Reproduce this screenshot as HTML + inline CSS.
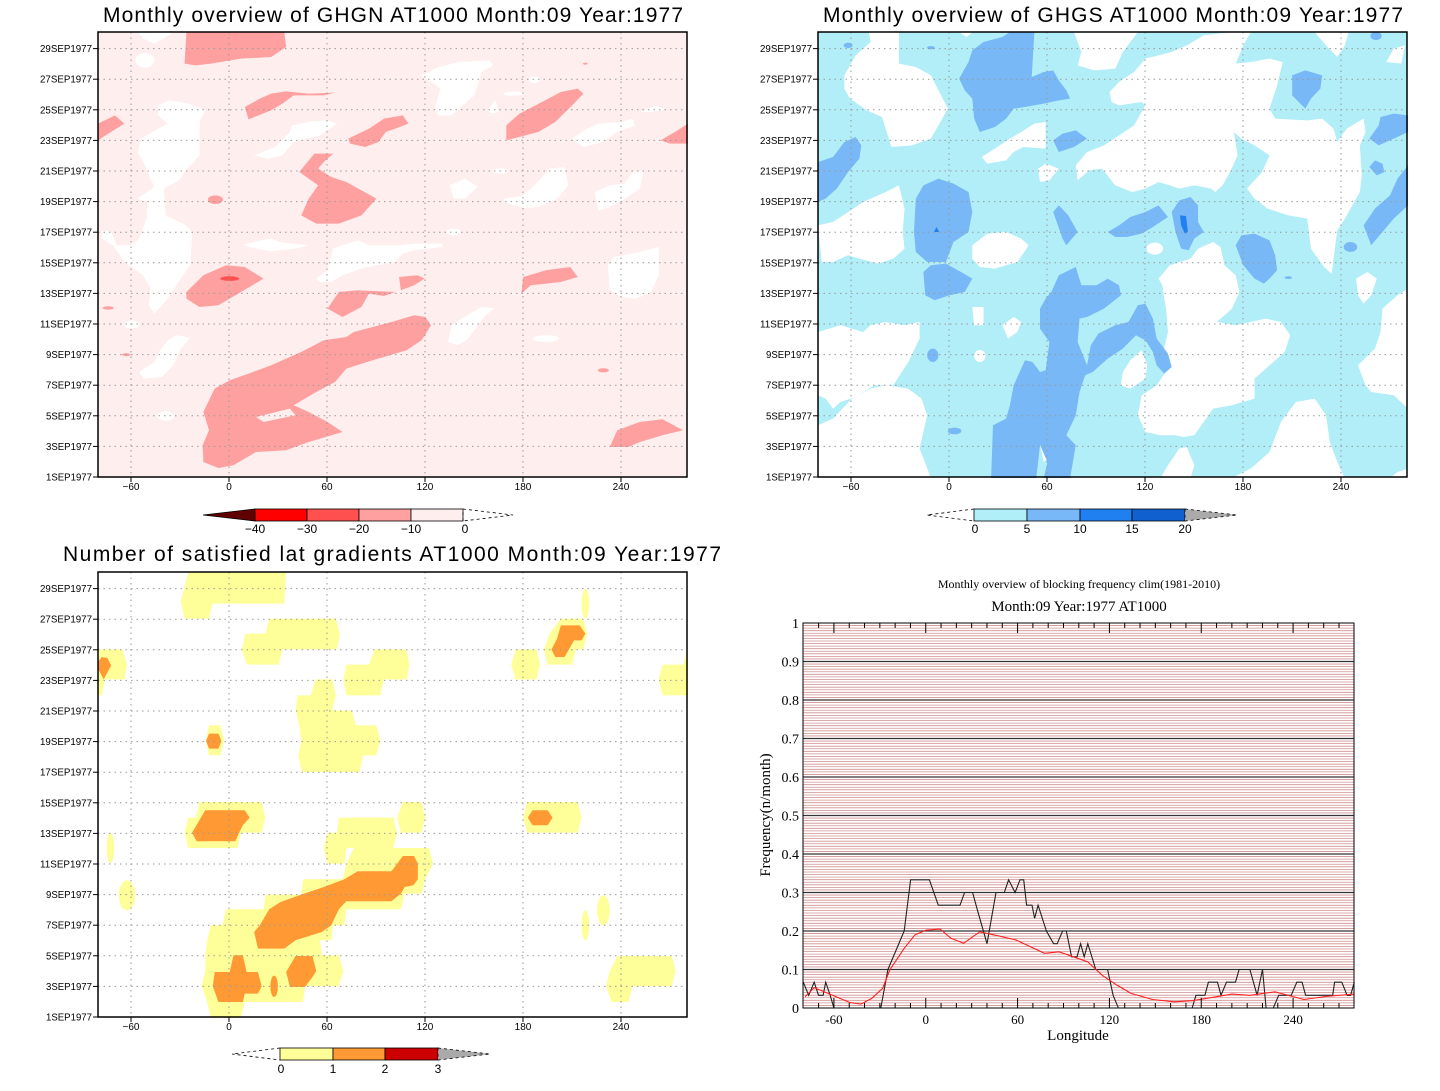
<!DOCTYPE html>
<html><head><meta charset="utf-8">
<style>
html,body{margin:0;padding:0;background:#fff;}
svg{display:block;}
.t{font-family:"Liberation Sans",sans-serif;}
.s{font-family:"Liberation Serif",serif;}
</style></head>
<body>
<svg id="fig" width="1440" height="1091" viewBox="0 0 1440 1091" xmlns="http://www.w3.org/2000/svg">
<!-- Panel 1 -->
<g>
<text class="t" x="103" y="22" font-size="21" textLength="580">Monthly overview of GHGN AT1000 Month:09 Year:1977</text>
<rect x="98" y="32" width="589" height="445" fill="#ffeeee"/>
<g transform="translate(98,32) scale(0.3763,0.3333)">
<g fill="#ffffff">
<path d="M105,0 L200,0 L175,20 L150,35 L120,20 Z"/>
<ellipse cx="125" cy="85" rx="25" ry="22"/>
<path d="M160,220 L190,205 L240,215 L285,235 L270,270 L270,370 L230,420 L215,445 L175,470 L180,550 L235,580 L250,600 L245,700 L220,740 L185,800 L150,845 L135,820 L140,770 L120,730 L70,690 L40,640 L10,620 L10,595 L35,600 L50,640 L90,640 L110,620 L130,555 L130,510 L105,500 L150,465 L135,430 L125,400 L105,360 L115,320 L160,290 L185,275 L160,250 Z"/>
<path d="M860,130 L905,105 L960,90 L1040,85 L1050,100 L1020,120 L1000,190 L960,230 L940,250 L905,250 L895,230 L910,170 Z"/>
<ellipse cx="1160" cy="143" rx="15" ry="10"/>
<ellipse cx="1105" cy="185" rx="28" ry="6"/>
<path d="M1035,235 L1055,205 L1065,240 L1045,245 Z"/>
<path d="M1440,240 L1480,222 L1510,232 L1470,240 Z"/>
<path d="M415,370 L470,345 L510,300 L515,280 L570,268 L610,265 L635,275 L590,310 L520,330 L490,370 L450,380 Z"/>
<path d="M1260,320 L1300,290 L1330,275 L1390,270 L1420,260 L1428,280 L1380,300 L1340,330 L1290,345 Z"/>
<path d="M935,460 L975,440 L1010,465 L975,500 L945,500 Z"/>
<ellipse cx="1070" cy="417" rx="20" ry="8"/>
<path d="M1080,500 L1130,490 L1160,460 L1200,410 L1240,405 L1250,460 L1220,500 L1170,525 L1130,528 L1080,510 Z"/>
<path d="M1320,480 L1360,460 L1400,455 L1420,420 L1450,415 L1440,470 L1400,500 L1350,530 L1330,535 Z"/>
<path d="M385,640 L430,625 L460,620 L490,632 L560,640 L525,650 L460,658 L420,650 Z"/>
<ellipse cx="945" cy="600" rx="20" ry="10"/>
<path d="M580,740 L610,715 L625,650 L650,640 L690,625 L720,640 L800,640 L840,635 L915,635 L915,645 L840,655 L810,665 L790,690 L740,700 L700,710 L650,730 L620,750 L590,750 Z"/>
<path d="M1355,700 L1370,675 L1420,665 L1490,645 L1490,730 L1470,780 L1430,800 L1390,795 L1360,775 Z"/>
<ellipse cx="90" cy="878" rx="20" ry="12"/>
<path d="M930,930 L940,880 L980,850 L1020,825 L1055,828 L1030,850 L1000,895 L980,925 L955,940 Z"/>
<ellipse cx="1190" cy="920" rx="35" ry="10"/>
<path d="M110,1020 L150,990 L165,955 L190,920 L210,910 L245,918 L220,950 L200,1000 L170,1035 L120,1040 Z"/>
<ellipse cx="180" cy="1152" rx="22" ry="14"/>
</g>
<g fill="#ffa0a0">
<path d="M235,0 L495,0 L500,45 L460,75 L380,80 L300,95 L260,100 L230,95 Z"/>
<path d="M390,225 L430,200 L460,185 L500,178 L560,185 L630,182 L600,190 L520,190 L490,215 L460,235 L400,262 Z"/>
<path d="M0,275 L45,250 L70,275 L20,310 L0,325 Z"/>
<path d="M665,320 L720,290 L760,260 L810,250 L825,275 L790,290 L765,300 L745,330 L710,345 L670,335 Z"/>
<path d="M1085,280 L1120,245 L1180,210 L1230,180 L1275,170 L1290,185 L1260,220 L1215,270 L1170,300 L1085,325 Z"/>
<path d="M1495,325 L1540,295 L1568,275 L1568,335 L1520,335 Z"/>
<path d="M535,420 L575,365 L625,365 L600,390 L585,410 L620,435 L660,450 L740,500 L700,550 L640,575 L580,575 L540,550 L560,500 L585,460 Z"/>
<ellipse cx="312" cy="503" rx="20" ry="13"/>
<path d="M235,780 L280,730 L340,700 L390,705 L440,740 L380,780 L320,820 L270,825 L235,800 Z"/>
<path d="M800,735 L850,730 L868,740 L840,760 L805,775 Z"/>
<path d="M1130,735 L1190,715 L1255,705 L1275,735 L1230,750 L1150,760 L1125,785 Z"/>
<path d="M610,830 L640,780 L690,775 L790,780 L760,792 L720,785 L700,825 L650,855 Z"/>
<path d="M280,1140 L310,1070 L350,1045 L400,1025 L460,1000 L540,960 L600,925 L660,915 L680,900 L780,870 L840,850 L870,855 L885,880 L860,925 L820,955 L730,985 L660,1010 L630,1050 L580,1080 L550,1100 L520,1120 L560,1140 L610,1170 L650,1200 L560,1230 L500,1255 L420,1260 L360,1300 L320,1308 L280,1290 L278,1240 L295,1195 Z"/>
<path d="M1360,1245 L1380,1195 L1440,1170 L1500,1162 L1555,1195 L1500,1210 L1440,1230 L1410,1245 Z"/>
<ellipse cx="27" cy="828" rx="15" ry="5"/>
<ellipse cx="75" cy="968" rx="12" ry="4"/>
<ellipse cx="1343" cy="1015" rx="15" ry="6"/>
<ellipse cx="1295" cy="95" rx="6" ry="3"/>
</g>
<path d="M420,1155 L510,1130 L525,1150 L440,1170 Z" fill="#ffeeee"/>
<ellipse cx="350" cy="740" rx="25" ry="7" fill="#ff5050"/>
</g>
<g id="grid1"></g>
<rect x="98" y="32" width="589" height="445" fill="none" stroke="#000" stroke-width="1.5"/>
<g id="axes1"></g>
<g>
<polygon points="203,515 255,509 255,521" fill="#600000" stroke="#000" stroke-width="0.8"/>
<rect x="255" y="509" width="52" height="12" fill="#ff0000" stroke="#000" stroke-width="0.8"/>
<rect x="307" y="509" width="52" height="12" fill="#ff5050" stroke="#000" stroke-width="0.8"/>
<rect x="359" y="509" width="52" height="12" fill="#ffa0a0" stroke="#000" stroke-width="0.8"/>
<rect x="411" y="509" width="52" height="12" fill="#ffeeee" stroke="#000" stroke-width="0.8"/>
<polyline points="463,521 463,509 513,515 463,521" fill="none" stroke="#000" stroke-width="0.8" stroke-dasharray="3,3"/>
<g class="t" font-size="12" text-anchor="middle">
<text x="255" y="533">−40</text><text x="307" y="533">−30</text><text x="359" y="533">−20</text><text x="411" y="533">−10</text><text x="465" y="533">0</text>
</g></g>
</g>

<!-- Panel 2 -->
<g>
<text class="t" x="823" y="22" font-size="21" textLength="580">Monthly overview of GHGS AT1000 Month:09 Year:1977</text>
<rect x="818" y="32" width="589" height="445" fill="#b2eef7"/>
<g transform="translate(818,32) scale(0.3763,0.3333)">
<g fill="#ffffff">
<path d="M70,130 L100,70 L140,30 L135,0 L215,0 L215,95 L260,105 L300,130 L345,230 L320,280 L300,320 L250,340 L195,345 L180,290 L170,255 L130,235 L85,200 L70,170 Z"/>
<path d="M375,0 L410,0 L395,15 Z"/>
<path d="M680,0 L850,0 L810,60 L790,110 L735,115 L690,100 L700,60 Z"/>
<path d="M775,180 L800,150 L840,120 L870,80 L940,60 L980,40 L1025,10 L1100,0 L1150,0 L1130,40 L1110,95 L1150,90 L1200,80 L1235,90 L1220,160 L1200,230 L1215,260 L1250,262 L1300,265 L1340,260 L1370,290 L1380,330 L1405,290 L1450,260 L1455,300 L1440,340 L1445,430 L1440,480 L1400,560 L1380,595 L1370,680 L1365,725 L1345,705 L1310,650 L1300,560 L1250,550 L1195,530 L1160,500 L1140,470 L1180,420 L1200,370 L1160,340 L1125,320 L1105,300 L1115,370 L1095,420 L1075,460 L1055,480 L1045,470 L1000,460 L960,470 L935,460 L905,450 L870,470 L835,480 L790,460 L755,410 L720,415 L690,445 L685,400 L715,360 L760,340 L800,310 L840,280 L870,220 L860,210 L800,220 L780,210 Z"/>
<path d="M1320,0 L1410,0 L1400,40 L1380,75 L1350,40 Z"/>
<path d="M1510,90 L1530,50 L1560,40 L1550,95 Z"/>
<path d="M435,375 L470,350 L510,320 L540,300 L575,275 L605,270 L605,350 L545,345 L520,360 L500,385 L450,395 Z"/>
<path d="M585,410 L605,395 L640,410 L615,445 L590,450 Z"/>
<path d="M0,580 L40,570 L80,540 L120,510 L180,480 L215,460 L230,530 L225,600 L230,650 L200,680 L160,695 L110,680 L80,670 L40,690 L10,690 Z"/>
<path d="M410,640 L450,605 L500,600 L540,620 L560,640 L530,690 L470,710 L430,705 L410,680 Z"/>
<ellipse cx="895" cy="650" rx="22" ry="18"/>
<path d="M905,740 L935,700 L990,680 L1010,650 L1050,630 L1070,645 L1080,700 L1110,730 L1120,780 L1100,830 L1060,870 L1110,880 L1190,860 L1230,870 L1255,910 L1240,960 L1200,1000 L1160,1040 L1160,1100 L1100,1120 L1050,1130 L1000,1210 L970,1215 L950,1210 L910,1210 L870,1200 L850,1150 L860,1090 L900,1060 L930,1010 L920,950 L930,900 L925,830 L920,800 L915,760 Z"/>
<path d="M1430,740 L1460,720 L1485,740 L1470,790 L1450,815 L1435,790 Z"/>
<path d="M1435,1000 L1480,950 L1495,900 L1500,830 L1540,790 L1568,770 L1568,1130 L1530,1090 L1470,1080 L1455,1060 Z"/>
<path d="M410,825 L440,825 L440,880 L415,880 Z"/>
<path d="M490,880 L520,855 L540,870 L530,900 L505,920 Z"/>
<ellipse cx="430" cy="972" rx="15" ry="18"/>
<path d="M805,1060 L810,1020 L830,985 L860,955 L875,1000 L870,1040 L830,1070 Z"/>
<path d="M0,900 L60,880 L120,900 L140,880 L180,870 L230,880 L270,870 L270,920 L240,990 L200,1060 L150,1060 L100,1095 L60,1110 L40,1130 L20,1100 L0,1090 Z"/>
<path d="M0,1180 L40,1160 L90,1100 L140,1070 L180,1060 L240,1070 L275,1100 L290,1150 L270,1250 L300,1338 L0,1338 Z"/>
<path d="M910,1338 L930,1300 L960,1250 L980,1245 L1000,1300 L990,1338 Z"/>
<path d="M1100,1338 L1150,1310 L1200,1260 L1230,1170 L1270,1110 L1320,1100 L1350,1150 L1360,1230 L1380,1290 L1400,1338 Z"/>
<path d="M1520,1338 L1540,1320 L1568,1310 L1568,1338 Z"/>
<path d="M590,1240 L640,1245 L600,1290 Z"/>
</g>
<g fill="#78b8f6">
<path d="M375,140 L400,90 L410,55 L440,30 L490,15 L510,0 L575,0 L568,135 L600,120 L625,115 L640,145 L660,175 L670,200 L640,205 L600,215 L550,225 L520,230 L500,260 L470,285 L430,300 L415,260 L410,200 L390,175 Z"/>
<path d="M625,325 L650,305 L685,295 L715,320 L680,345 L640,360 Z"/>
<path d="M1260,130 L1295,115 L1340,130 L1335,170 L1310,200 L1295,230 L1260,190 Z"/>
<path d="M1465,320 L1490,280 L1495,255 L1530,245 L1568,250 L1568,300 L1530,320 L1490,340 Z"/>
<path d="M0,390 L40,375 L70,330 L100,315 L115,340 L110,380 L80,420 L50,470 L20,500 L0,510 Z"/>
<path d="M260,500 L280,460 L320,440 L360,455 L400,480 L410,540 L400,600 L360,630 L340,690 L290,690 L260,660 L255,600 Z"/>
<path d="M280,720 L300,700 L340,695 L380,720 L410,740 L390,780 L350,790 L310,805 L285,790 Z"/>
<path d="M625,540 L640,520 L665,550 L690,600 L660,640 L650,620 Z"/>
<path d="M770,600 L800,580 L830,555 L870,540 L905,520 L930,555 L890,585 L860,605 L820,615 L790,615 Z"/>
<path d="M940,540 L960,505 L990,495 L1010,520 L1010,570 L1025,600 L1000,620 L985,655 L965,650 L950,600 Z"/>
<path d="M1110,640 L1125,610 L1160,605 L1200,625 L1215,670 L1220,715 L1200,740 L1185,755 L1160,740 L1130,700 Z"/>
<path d="M1465,405 L1480,385 L1500,395 L1505,420 L1485,430 Z"/>
<path d="M1450,580 L1480,530 L1520,490 L1540,440 L1568,400 L1568,520 L1530,560 L1500,600 L1470,640 Z"/>
<ellipse cx="1415" cy="645" rx="18" ry="15"/>
<path d="M460,1338 L465,1180 L500,1160 L510,1120 L520,1060 L550,985 L570,990 L590,1020 L605,1015 L615,930 L590,890 L590,830 L605,800 L620,780 L640,730 L685,705 L700,760 L740,760 L770,740 L800,760 L805,790 L760,830 L715,855 L695,860 L690,930 L715,1000 L725,940 L745,905 L790,880 L825,870 L850,820 L870,815 L890,860 L900,920 L930,965 L940,1005 L920,1025 L900,1000 L890,960 L870,925 L845,910 L810,950 L770,980 L730,1020 L710,1030 L695,1080 L685,1150 L660,1210 L685,1240 L670,1338 L600,1338 L610,1290 L590,1240 L580,1338 Z"/>
<ellipse cx="305" cy="970" rx="15" ry="20"/>
<ellipse cx="363" cy="1197" rx="18" ry="10"/>
<ellipse cx="80" cy="40" rx="12" ry="8"/>
<ellipse cx="300" cy="47" rx="10" ry="5"/>
<ellipse cx="1483" cy="12" rx="15" ry="12"/>
<ellipse cx="1250" cy="737" rx="10" ry="4"/>
</g>
<path d="M962,550 L978,552 L983,600 L975,605 L965,580 Z" fill="#2080f0"/>
<path d="M308,600 L315,585 L322,600 Z" fill="#2080f0"/>
</g>
<g id="grid2"></g>
<rect x="818" y="32" width="589" height="445" fill="none" stroke="#000" stroke-width="1.5"/>
<g id="axes2"></g>
<g>
<polyline points="974,509 927,515 974,521" fill="none" stroke="#000" stroke-width="0.8" stroke-dasharray="3,3"/>
<rect x="974" y="509" width="53" height="12" fill="#b0eef8" stroke="#000" stroke-width="0.8"/>
<rect x="1027" y="509" width="53" height="12" fill="#78b8f8" stroke="#000" stroke-width="0.8"/>
<rect x="1080" y="509" width="52" height="12" fill="#2080f0" stroke="#000" stroke-width="0.8"/>
<rect x="1132" y="509" width="53" height="12" fill="#1060d0" stroke="#000" stroke-width="0.8"/>
<polygon points="1185,509 1237,515 1185,521" fill="#aaaaaa" stroke="#000" stroke-width="0.8" stroke-dasharray="3,3"/>
<g class="t" font-size="12" text-anchor="middle">
<text x="975" y="533">0</text><text x="1027" y="533">5</text><text x="1080" y="533">10</text><text x="1132" y="533">15</text><text x="1185" y="533">20</text>
</g></g>
</g>

<!-- Panel 3 -->
<g>
<text class="t" x="63" y="561" font-size="21" textLength="658">Number of satisfied lat gradients AT1000 Month:09 Year:1977</text>
<rect x="98" y="572" width="589" height="445" fill="#ffffff"/>
<g transform="translate(98,572) scale(0.3763,0.3333)">
<g fill="#ffff99">
<path d="M240,0 L500,0 L495,95 L305,95 L295,140 L230,140 L220,90 Z"/>
<path d="M455,140 L632,140 L643,185 L635,232 L490,232 L480,278 L395,278 L382,232 L392,185 L445,185 Z"/>
<path d="M0,232 L65,232 L77,278 L70,322 L18,322 L10,370 L0,370 Z"/>
<path d="M660,278 L720,278 L735,232 L820,232 L828,278 L820,322 L760,322 L750,370 L660,370 L652,322 Z"/>
<path d="M530,370 L565,370 L578,322 L622,322 L632,370 L622,415 L675,415 L685,460 L740,460 L750,505 L740,550 L705,550 L695,600 L542,600 L532,550 L540,505 L535,460 L525,415 Z"/>
<path d="M295,460 L325,460 L335,505 L325,550 L295,550 L287,505 Z"/>
<path d="M270,690 L435,690 L445,737 L435,782 L380,782 L370,828 L240,828 L230,782 L240,737 L260,737 Z"/>
<path d="M810,690 L860,690 L870,737 L860,782 L805,782 L795,737 Z"/>
<path d="M640,737 L785,737 L795,782 L785,828 L880,828 L890,875 L870,922 L860,965 L815,965 L805,1012 L660,1012 L655,1060 L625,1060 L620,1105 L590,1105 L595,1150 L640,1150 L652,1197 L640,1243 L550,1243 L545,1290 L390,1290 L380,1338 L300,1338 L290,1290 L275,1243 L285,1197 L285,1150 L290,1105 L300,1060 L330,1060 L340,1012 L440,1012 L445,968 L540,968 L545,922 L650,922 L660,875 L680,828 L660,828 L655,875 L610,875 L600,828 L610,782 L635,782 Z"/>
<path d="M1230,140 L1290,140 L1300,185 L1290,232 L1270,232 L1260,278 L1195,278 L1185,232 L1200,185 Z"/>
<path d="M1110,232 L1165,232 L1175,278 L1165,322 L1110,322 L1098,278 Z"/>
<path d="M1500,278 L1555,278 L1568,232 L1568,370 L1500,370 L1490,322 Z"/>
<path d="M1140,690 L1275,690 L1285,737 L1275,782 L1140,782 L1130,737 Z"/>
<path d="M1380,1152 L1525,1152 L1535,1197 L1525,1243 L1420,1243 L1410,1290 L1365,1290 L1350,1243 L1360,1197 Z"/>
<ellipse cx="1295" cy="95" rx="10" ry="45"/>
<ellipse cx="33" cy="828" rx="10" ry="45"/>
<ellipse cx="77" cy="970" rx="22" ry="45"/>
<ellipse cx="1343" cy="1015" rx="17" ry="45"/>
<ellipse cx="1295" cy="1060" rx="10" ry="45"/>
</g>
<g fill="#ff9933">
<path d="M0,270 L10,255 L25,258 L35,280 L15,322 L0,290 Z"/>
<path d="M295,485 L320,485 L328,507 L320,530 L295,530 L287,507 Z"/>
<path d="M285,715 L390,715 L403,737 L385,760 L375,782 L365,808 L262,808 L250,782 Z"/>
<path d="M415,1080 L430,1060 L455,1012 L485,990 L540,968 L600,945 L655,922 L690,898 L780,898 L810,852 L840,852 L850,875 L850,922 L838,940 L815,945 L805,965 L780,988 L660,988 L640,1012 L620,1060 L595,1080 L525,1105 L495,1130 L425,1130 Z"/>
<path d="M310,1200 L350,1200 L360,1150 L385,1150 L395,1200 L425,1200 L435,1243 L425,1265 L390,1265 L385,1290 L320,1290 L305,1243 Z"/>
<path d="M500,1200 L525,1152 L570,1152 L580,1197 L570,1215 L550,1245 L510,1245 Z"/>
<ellipse cx="468" cy="1243" rx="10" ry="32"/>
<path d="M1230,160 L1280,160 L1295,185 L1285,205 L1265,205 L1240,255 L1215,255 L1205,232 L1220,200 Z"/>
<path d="M1155,715 L1195,715 L1208,737 L1195,760 L1155,760 L1142,737 Z"/>
</g>
</g>
<g id="grid3"></g>
<rect x="98" y="572" width="589" height="445" fill="none" stroke="#000" stroke-width="1.5"/>
<g id="axes3"></g>
<g>
<polyline points="280,1048 232,1054 280,1060" fill="none" stroke="#000" stroke-width="0.8" stroke-dasharray="3,3"/>
<rect x="280" y="1048" width="53" height="12" fill="#ffff99" stroke="#000" stroke-width="0.8"/>
<rect x="333" y="1048" width="52" height="12" fill="#ff9933" stroke="#000" stroke-width="0.8"/>
<rect x="385" y="1048" width="53" height="12" fill="#cc0000" stroke="#000" stroke-width="0.8"/>
<polygon points="438,1048 490,1054 438,1060" fill="#aaaaaa" stroke="#000" stroke-width="0.8" stroke-dasharray="3,3"/>
<g class="t" font-size="12" text-anchor="middle">
<text x="281" y="1073">0</text><text x="333" y="1073">1</text><text x="385" y="1073">2</text><text x="438" y="1073">3</text>
</g></g>
</g>

<!-- Panel 4 -->
<g>
<text class="s" x="1079" y="588" font-size="12" text-anchor="middle">Monthly overview of blocking frequency clim(1981-2010)</text>
<text class="s" x="1079" y="611" font-size="15" text-anchor="middle">Month:09 Year:1977  AT1000</text>
<g id="p4grid"></g>
<g id="p4lines"></g>
<rect x="803" y="623" width="551" height="385" fill="none" stroke="#000" stroke-width="1"/>
<g id="p4axes"></g>
<text class="s" transform="translate(770,815) rotate(-90)" font-size="15" text-anchor="middle">Frequency(n/month)</text>
<text class="s" x="1078" y="1040" font-size="15" text-anchor="middle">Longitude</text>
</g>
</svg>
<script>
// Panel 4 data
const blackLon = [-80,-76.5,-72.9,-70.1,-67.1,-65.4,-62.4,-60,-29.4,-24.7,-14.1,-9.9,2.4,8.2,22.4,25.4,30.6,34.1,40,45.9,51.3,54.1,58.4,61.6,64,65.9,69.4,71.1,73.4,78.8,83.5,85.9,89.4,91.8,95.3,98.8,101.2,103.5,105.9,111.1,118.8,122.4,125.9,174.1,176.5,182.4,184.7,190.6,192.9,196.5,202.4,204.7,211.8,216.5,220,222.4,227.1,230.6,238.8,242.4,245.9,248.2,265.9,267.1,271.8,275.3,277.6,280];
const blackVal = [0.067,0.033,0.067,0.033,0.033,0.067,0.033,0,0,0.1,0.2,0.333,0.333,0.267,0.267,0.3,0.3,0.25,0.167,0.3,0.3,0.333,0.3,0.333,0.333,0.267,0.267,0.233,0.267,0.2,0.167,0.167,0.2,0.2,0.133,0.133,0.167,0.133,0.167,0.1,0.1,0.033,0,0,0.033,0.033,0.067,0.067,0.033,0.067,0.067,0.1,0.1,0.033,0.1,0,0,0.033,0.033,0.067,0.067,0.033,0.033,0.067,0.067,0.033,0.033,0.067];
const redLon = [-78.8,-72.9,-49.4,-42.4,-35.3,-28.2,-23.5,-14.1,-7.1,0,9.4,16.5,24.7,35.3,44.7,58.8,77.6,87.1,96.5,105.9,115.3,124.7,134.1,148.2,162.4,174.1,188.2,200,211.8,228.2,247.1,261.2,280];
const redVal = [0.029,0.053,0.014,0.010,0.025,0.051,0.099,0.155,0.190,0.202,0.205,0.181,0.168,0.198,0.19,0.177,0.142,0.146,0.133,0.12,0.085,0.06,0.038,0.022,0.016,0.019,0.028,0.036,0.033,0.042,0.022,0.03,0.036];
const p4XTicks = [-60,0,60,120,180,240];
const p4YTicks = [0,0.1,0.2,0.3,0.4,0.5,0.6,0.7,0.8,0.9,1];
// Panels 1-3 axis labels
const lonTicks = [-60,0,60,120,180,240];
const dayTicks = [1,3,5,7,9,11,13,15,17,19,21,23,25,27,29];

const NS = 'http://www.w3.org/2000/svg';
function mk(tag, attrs, parent){const e=document.createElementNS(NS,tag);for(const k in attrs)e.setAttribute(k,attrs[k]);parent.appendChild(e);return e;}

function buildMap(idx, x0, y0){
  const xs = lon => x0 + (lon + 80.2) * 1.6333;
  const ys = d => y0 + 445 - (d - 1) * 15.3;
  const grid = document.getElementById('grid'+idx);
  const axes = document.getElementById('axes'+idx);
  lonTicks.forEach(l=>{
    const gl = mk('line',{x1:xs(l),x2:xs(l),y1:y0,y2:y0+445,stroke:'#999','stroke-width':1,'stroke-dasharray':'1.5,4'},grid);
    
    
    mk('line',{x1:xs(l),x2:xs(l),y1:y0+445,y2:y0+450,stroke:'#000','stroke-width':1},axes);
    const t = mk('text',{x:xs(l),y:y0+458,'font-size':10,'text-anchor':'middle','class':'t'},axes);
    t.textContent = (l<0?'−':'')+Math.abs(l);
    
    
  });
  dayTicks.forEach(d=>{
    if(d>1){
      const gl = mk('line',{x1:x0,x2:x0+589,y1:ys(d),y2:ys(d),stroke:'#999','stroke-width':1,'stroke-dasharray':'1.5,4'},grid);
      
      
    }
    mk('line',{x1:x0-5,x2:x0,y1:ys(d),y2:ys(d),stroke:'#000','stroke-width':1},axes);
    const t = mk('text',{x:x0-6,y:ys(d)+3.5,'font-size':10,'text-anchor':'end','class':'t',textLength:d<10?46:52,lengthAdjust:'spacingAndGlyphs'},axes);
    t.textContent = d+'SEP1977';
    
    
  });
}
buildMap(1,98,32);
buildMap(2,818,32);
buildMap(3,98,572);

// Panel 4
const X0=803, Y0=623, W=551, H=385;
const px = lon => X0 + (lon + 80.2) * (W/360);
const py = v => Y0 + H - v * H;
const g4 = document.getElementById('p4grid');
for(let i=1;i<150;i++){
  if(i%15===0) continue;
  const l = mk('line',{x1:X0,x2:X0+W,y1:py(i/150),y2:py(i/150),stroke:'#d09090','stroke-width':0.8},g4);
  
  
}
const ax4 = document.getElementById('p4axes');
p4YTicks.forEach(v=>{
  if(v>0 && v<1){
    const l = mk('line',{x1:X0,x2:X0+W,y1:py(v),y2:py(v),stroke:'#333','stroke-width':1.2},g4);
    
    
  }
  const t = mk('text',{x:X0-4,y:py(v)+5,'font-size':14,'text-anchor':'end','class':'s'},ax4);
  t.textContent = String(v);
  
  
});
for(let lon=-70; lon<=270; lon+=10){
  mk('line',{x1:px(lon),x2:px(lon),y1:Y0+H,y2:Y0+H-(lon%60===0?10:5),stroke:'#000','stroke-width':1},ax4);
  mk('line',{x1:px(lon),x2:px(lon),y1:Y0,y2:Y0+(lon%60===0?10:5),stroke:'#000','stroke-width':1},ax4);
}
p4XTicks.forEach(l=>{
  const t = mk('text',{x:px(l),y:Y0+H+16,'font-size':13,'text-anchor':'middle','class':'s'},ax4);
  t.textContent = String(l);
  
  
});
const lg = document.getElementById('p4lines');
const bl = mk('polyline',{points:blackLon.map((l,i)=>px(l).toFixed(1)+','+py(blackVal[i]).toFixed(1)).join(' '),fill:'none',stroke:'#222','stroke-width':1.1},lg);


const rl = mk('polyline',{points:redLon.map((l,i)=>px(l).toFixed(1)+','+py(redVal[i]).toFixed(1)).join(' '),fill:'none',stroke:'#ff2020','stroke-width':1.1},lg);


</script>
</body></html>
